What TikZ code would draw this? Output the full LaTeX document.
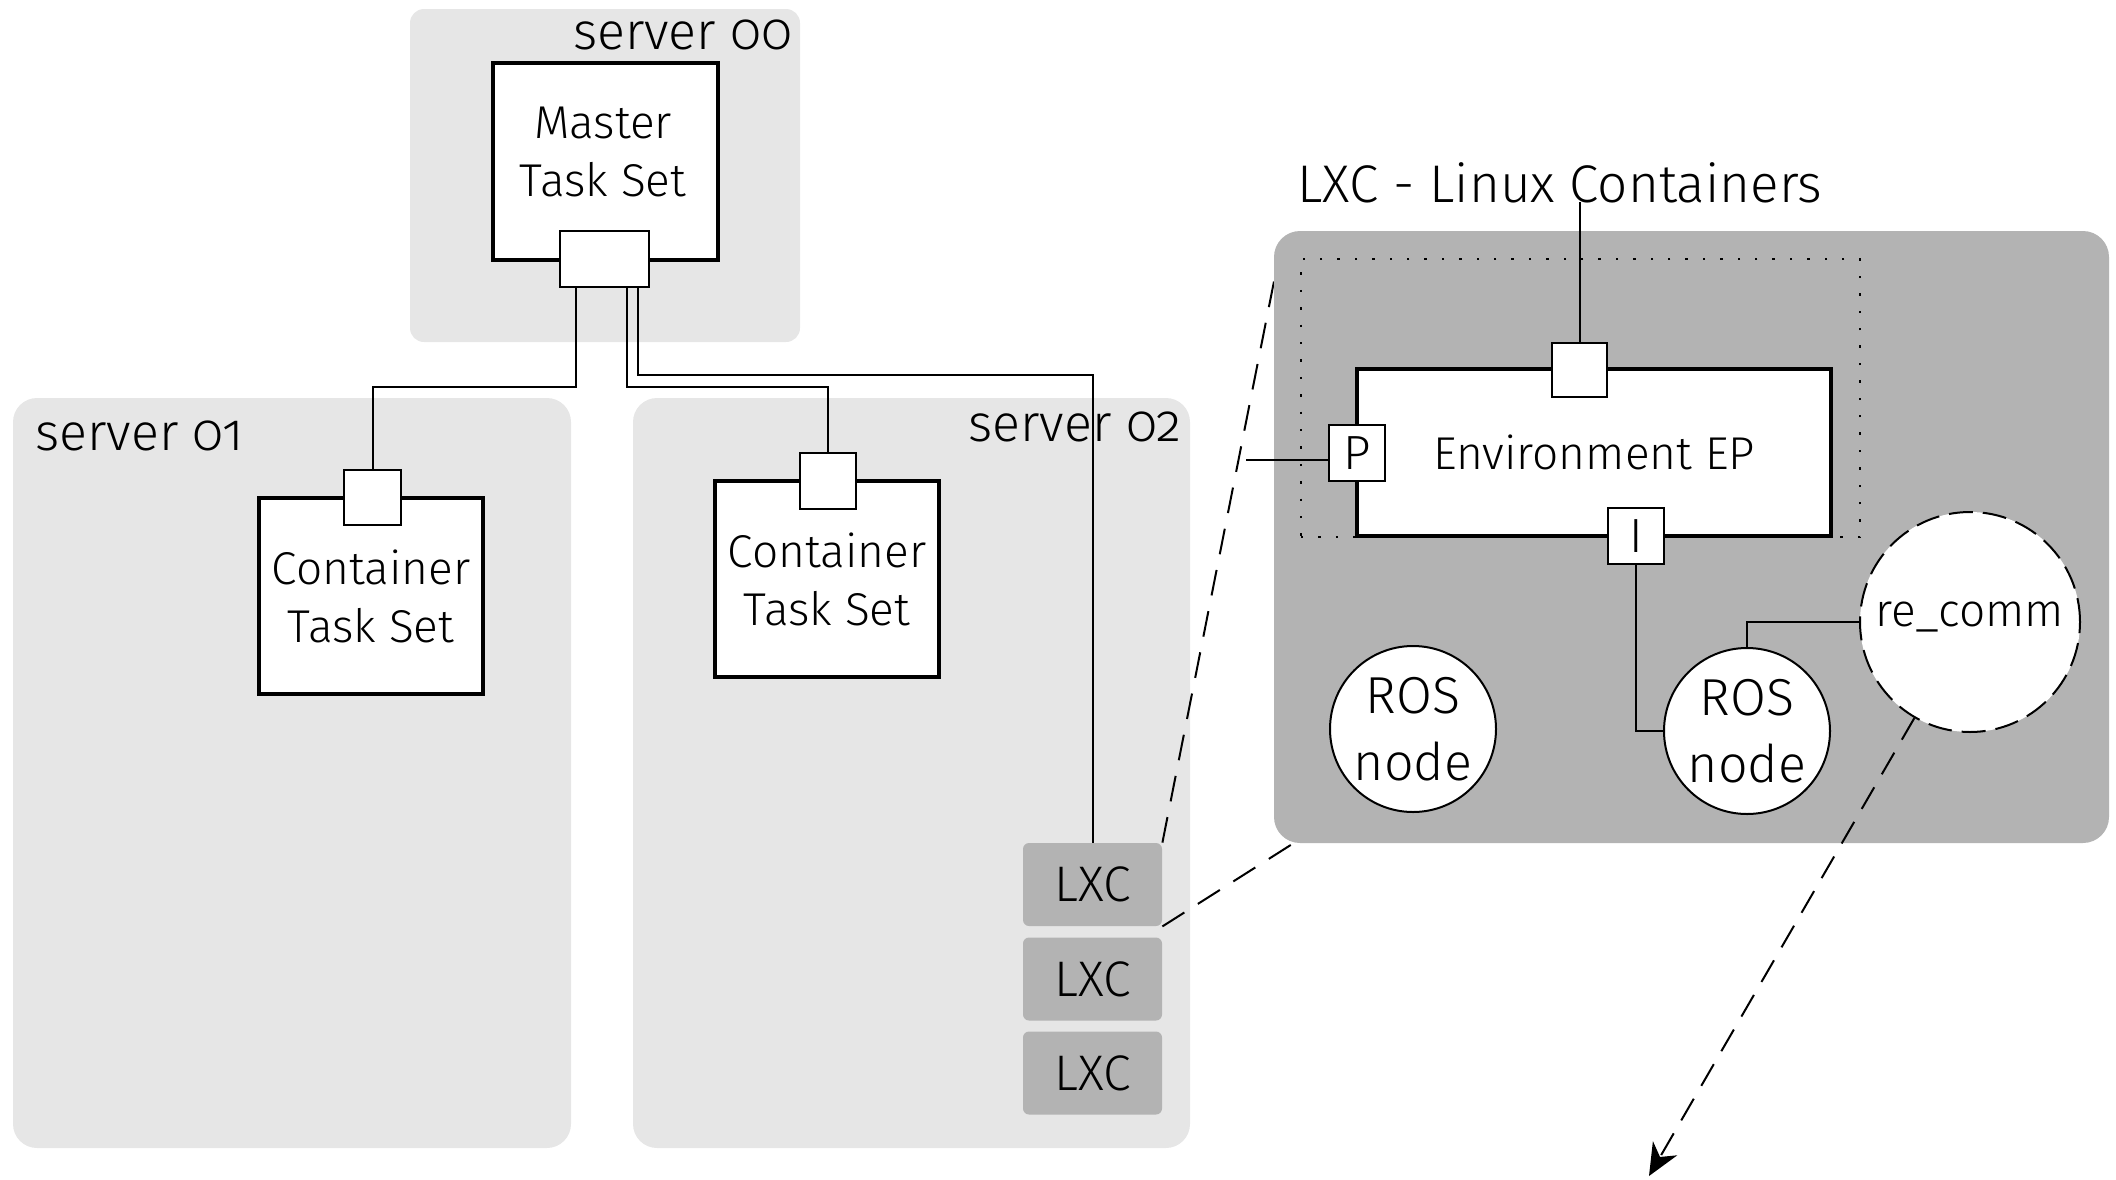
\documentclass[tikz,border=0pt]{standalone}
\usepackage{fontspec}
\setmainfont{Fira Sans}[UprightFont=* Light, Numbers=OldStyle]
\usetikzlibrary{arrows.meta,calc}
\definecolor{srvgray}{HTML}{E6E6E6}
\definecolor{lxcgray}{HTML}{B3B3B3}
\tikzset{
  server/.style={fill=srvgray, draw=none, rounded corners=12pt, inner sep=0pt},
  srvlabel/.style={inner sep=0pt, font=\fontsize{26}{32}\selectfont},
  taskbox/.style={draw, line width=2pt, fill=white, align=center, inner sep=0pt,
    font=\fontsize{23}{29}\selectfont},
  tasktext/.style={inner sep=0pt, align=center, font=\fontsize{23}{29}\selectfont},
  portbox/.style={draw, line width=1pt, fill=white, inner sep=0pt,
    font=\fontsize{24}{28}\selectfont},
  lxcbox/.style={fill=lxcgray, draw=none, rounded corners=3pt, inner sep=0pt,
    minimum width=69.5pt, minimum height=41.5pt, font=\fontsize{25}{30}\selectfont},
  bigbox/.style={fill=lxcgray, draw=none, rounded corners=13pt, inner sep=0pt},
  link/.style={line width=1pt},
  zoomline/.style={line width=1pt, dash pattern=on 13pt off 8pt},
  rosnode/.style={circle, draw, line width=1pt, fill=white, minimum size=83pt,
    inner sep=0pt, align=center, font=\fontsize{26}{33.5}\selectfont},
  commnode/.style={circle, draw, line width=1pt, dash pattern=on 12pt off 5pt,
    fill=white, minimum size=110pt, inner sep=0pt, text depth=8pt,
    font=\fontsize{23}{29}\selectfont},
  scopebox/.style={draw, line width=1.2pt, dash pattern=on 1.2pt off 7.5pt,
    inner sep=0pt}
}
\begin{document}
\begin{tikzpicture}[x=0.5pt, y=-0.5pt]
\useasboundingbox (0,0) rectangle (2116,1179);

% server areas
\node[server, rounded corners=7pt, minimum width=195pt, minimum height=166.5pt] (srv0) at (605,175.5) {};
\node[server, minimum width=279pt, minimum height=375pt] (srv1) at (292,773) {};
\node[server, minimum width=278.5pt, minimum height=375pt] (srv2) at (911.5,773) {};
\node[srvlabel, anchor=base east] (lbl0) at (793,49) {server 00};
\node[srvlabel, anchor=base west] (lbl1) at (35,450) {server 01};
\node[srvlabel, anchor=base east] (lbl2) at (1182,441) {server 02};

% task sets and their ports
\node[taskbox, minimum width=112.5pt, minimum height=98.5pt] (master) at (605.5,161.5) {};
\node[tasktext] (mastertext) at (603,152) {Master\\Task Set};
\node[portbox, minimum width=44.5pt, minimum height=28pt] (mport) at (604.5,259) {};
\node[taskbox, minimum width=112pt, minimum height=98pt] (cts1) at (371,596) {Container\\Task Set};
\node[portbox, minimum width=28.5pt, minimum height=27.5pt] (cport1) at (372.5,497.5) {};
\node[taskbox, minimum width=112pt, minimum height=98pt] (cts2) at (827,579) {Container\\Task Set};
\node[portbox, minimum width=28pt, minimum height=28pt] (cport2) at (828,481) {};

% containers on server 02
\node[lxcbox] (lxc1) at (1092.5,884.5) {LXC};
\node[lxcbox] (lxc2) at (1092.5,979) {LXC};
\node[lxcbox] (lxc3) at (1092.5,1073) {LXC};

% links from the master port
\coordinate (j1) at (576,387);
\coordinate (j2) at (627,387);
\coordinate (j3) at (638,375);
\draw[link] (mport.south -| j1) -- (j1) -| (cport1.north);
\draw[link] (mport.south -| j2) -- (j2) -| (cport2.north);
\draw[link] (mport.south -| j3) -- (j3) -| (lxc1.north);

% zoom lines to the detailed container view
\coordinate (zt) at (1283,236);
\coordinate (zb) at (1297,841);
\draw[zoomline] (lxc1.north east) -- (zt);
\draw[zoomline] (lxc1.south east) -- (zb);

% detailed container view
\node[bigbox, minimum width=417.5pt, minimum height=306pt] (lxcview) at (1691.5,537) {};
\node[inner sep=0pt, anchor=base, font=\fontsize{26.5}{32}\selectfont] (title) at (1560,202) {LXC - Linux Containers};
\node[scopebox, minimum width=279.5pt, minimum height=139pt] (scope) at (1580.5,398) {};
\node[taskbox, minimum width=237pt, minimum height=83.5pt] (env) at (1594,452.5) {Environment EP};
\node[portbox, minimum width=27.5pt, minimum height=27pt] (tport) at (1579.5,370) {};
\node[portbox, minimum width=28pt, minimum height=28pt] (pport) at (1357,453) {P};
\node[portbox, minimum width=28pt, minimum height=28pt] (iport) at (1636,536) {I};

\node[rosnode] (ros1) at (1413,729) {ROS\\node};
\node[rosnode] (ros2) at (1747,731) {ROS\\node};
\node[commnode] (recomm) at (1970,622) {re\_comm};

\draw[link] (tport.north) -- (tport.north |- title.base);
\coordinate (pin) at (1246,460);
\draw[link] (pin) -- (pin -| pport.west);
\draw[link] (iport.south) |- (ros2.west);
\draw[link] (recomm.west) -| (ros2.north);

\coordinate (aend) at (1649,1176);
\draw[zoomline, dash pattern=on 12.5pt off 7.5pt, -{Stealth[length=16pt, width=14pt, inset=5pt]}] (recomm) -- (aend);
\end{tikzpicture}
\end{document}
